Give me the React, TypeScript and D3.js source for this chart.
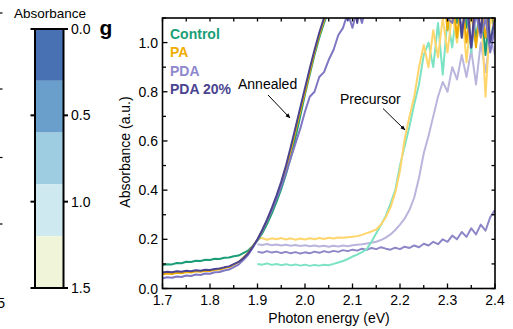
import React from "react";
import * as d3 from "d3";

const energy = [1.70,1.71,1.72,1.73,1.74,1.75,1.76,1.77,1.78,1.79,1.80,1.81,1.82,1.83,1.84,1.85,1.86,1.87,1.88,1.89,1.90,1.91,1.92,1.93,1.94,1.95,1.96,1.97,1.98,1.99,2.00,2.01,2.02,2.03,2.04,2.05,2.06,2.07,2.08,2.09,2.10,2.11,2.12,2.13,2.14,2.15,2.16,2.17,2.18,2.19,2.20,2.21,2.22,2.23,2.24,2.25,2.26,2.27,2.28,2.29,2.30,2.31,2.32,2.33,2.34,2.35,2.36,2.37,2.38,2.39,2.40];
const precursorEnergy = energy.slice(20);

const annealedControl = [0.095,0.099,0.098,0.104,0.103,0.109,0.108,0.113,0.112,0.117,0.116,0.121,0.120,0.125,0.126,0.131,0.134,0.144,0.154,0.173,0.195,0.225,0.262,0.305,0.352,0.405,0.465,0.535,0.615,0.700,0.790,0.870,0.950,1.020,1.080,1.130,1.170,1.200,1.230,1.250,1.270,1.290,1.300,1.310,1.320,1.320,1.330,1.330,1.340,1.340,1.340,1.330,1.340,1.320,1.300,1.280,1.250,1.220,1.180,1.200,1.120,1.250,1.080,1.220,1.060,1.200,1.000,1.180,0.950,1.150,1.050];
const annealedPA = [0.058,0.061,0.059,0.064,0.062,0.067,0.065,0.070,0.068,0.072,0.071,0.076,0.077,0.083,0.087,0.097,0.107,0.125,0.144,0.171,0.200,0.235,0.275,0.320,0.370,0.425,0.490,0.560,0.640,0.720,0.800,0.880,0.960,1.030,1.090,1.140,1.180,1.210,1.240,1.260,1.280,1.300,1.310,1.320,1.330,1.330,1.340,1.340,1.340,1.350,1.340,1.340,1.330,1.320,1.300,1.270,1.240,1.200,1.100,1.250,1.050,1.200,1.020,1.200,1.000,1.150,0.980,1.150,1.020,1.200,1.040];
const annealedPDA = [0.042,0.046,0.044,0.049,0.047,0.053,0.051,0.057,0.055,0.061,0.060,0.066,0.067,0.073,0.077,0.087,0.097,0.116,0.136,0.166,0.198,0.235,0.275,0.318,0.365,0.415,0.470,0.530,0.590,0.650,0.720,0.780,0.800,0.860,0.880,0.930,0.970,1.030,1.060,1.120,1.060,1.140,1.080,1.160,1.200,1.220,1.240,1.260,1.270,1.280,1.290,1.290,1.280,1.270,1.250,1.230,1.200,1.160,1.120,1.180,1.100,1.080,1.160,1.050,1.140,0.980,1.120,1.020,1.100,0.960,1.060];
const annealedPDA20 = [0.065,0.068,0.066,0.070,0.068,0.072,0.070,0.074,0.072,0.076,0.075,0.079,0.081,0.086,0.090,0.099,0.108,0.123,0.142,0.169,0.200,0.238,0.280,0.327,0.378,0.435,0.500,0.575,0.655,0.735,0.815,0.895,0.970,1.040,1.100,1.150,1.180,1.120,1.200,1.090,1.200,1.080,1.220,1.150,1.250,1.270,1.290,1.300,1.310,1.310,1.320,1.310,1.300,1.290,1.270,1.250,1.220,1.180,1.130,1.230,1.160,1.100,1.250,1.020,1.200,0.980,1.200,1.040,1.220,1.000,1.100];

const precursorControl = [0.100,0.097,0.102,0.096,0.100,0.095,0.099,0.094,0.098,0.093,0.097,0.092,0.096,0.093,0.097,0.095,0.100,0.106,0.112,0.120,0.130,0.138,0.148,0.160,0.190,0.225,0.258,0.295,0.345,0.400,0.500,0.580,0.660,0.750,0.830,0.950,1.000,0.900,1.080,0.870,1.100,0.980,1.150,1.020,1.120,0.960,1.150,1.040,1.200,1.000,1.120];
const precursorPA = [0.200,0.205,0.198,0.204,0.200,0.205,0.199,0.204,0.198,0.203,0.199,0.204,0.200,0.205,0.201,0.206,0.203,0.207,0.206,0.208,0.210,0.213,0.218,0.225,0.232,0.240,0.260,0.290,0.330,0.390,0.480,0.610,0.700,0.780,0.900,0.990,0.900,1.050,0.940,1.100,0.960,1.120,1.000,1.150,0.920,1.120,1.000,1.150,0.780,1.100,1.050];
const precursorPDA = [0.180,0.177,0.181,0.176,0.179,0.175,0.178,0.174,0.177,0.173,0.176,0.172,0.175,0.171,0.174,0.170,0.174,0.171,0.175,0.172,0.176,0.178,0.180,0.183,0.186,0.190,0.197,0.207,0.220,0.238,0.260,0.285,0.320,0.370,0.450,0.550,0.620,0.700,0.780,0.840,0.800,0.900,0.850,0.950,0.860,0.970,0.830,1.000,0.880,1.020,0.950];
const precursorPDA20 = [0.150,0.145,0.152,0.146,0.150,0.144,0.149,0.143,0.148,0.142,0.147,0.143,0.150,0.145,0.152,0.147,0.153,0.149,0.156,0.152,0.158,0.154,0.162,0.157,0.165,0.160,0.168,0.162,0.158,0.166,0.160,0.170,0.165,0.175,0.168,0.182,0.175,0.190,0.180,0.200,0.190,0.215,0.200,0.230,0.210,0.245,0.220,0.260,0.235,0.290,0.320];

const legendLabels = ["Control", "PA", "PDA", "PDA 20%"];
const legendColors = ["#1b9e77", "#f0ad00", "#8f88cc", "#4a4491"];

const xTicks = [1.7, 1.8, 1.9, 2.0, 2.1, 2.2, 2.3, 2.4];
const xMinor = [1.75, 1.85, 1.95, 2.05, 2.15, 2.25, 2.35];
const yTicks = [0, 0.2, 0.4, 0.6, 0.8, 1.0];
const yMinor = [0.1, 0.3, 0.5, 0.7, 0.9, 1.1];

const cbBreaks = [0, 0.3, 0.6, 0.9, 1.2, 1.5];
const cbColors = ["#4771b2", "#6b9fcb", "#9ecde1", "#cfe9f1", "#f0f5d9"];
const cbTicks = [0, 0.5, 1.0, 1.5];

const FONT = "'Liberation Sans', Arial, sans-serif";

export default function App() {
  const x = d3.scaleLinear().domain([1.7, 2.4]).range([162.5, 495]);
  const y = d3.scaleLinear().domain([0, 1.1]).range([288.5, 18]);
  const cb = d3.scaleLinear().domain([0, 1.5]).range([29, 288]);

  const mk = (xs: number[], ys: number[]) =>
    d3.line<number>().x((_, i) => x(xs[i])).y((v) => y(v))(ys) || "";

  const precursors = [
    { d: precursorPDA20, c: "#8e87c7" },
    { d: precursorPDA, c: "#b9b5dd" },
    { d: precursorControl, c: "#7be2c4" },
    { d: precursorPA, c: "#ffd56c" },
  ];
  const annealed = [
    { d: annealedControl, c: "#1b9e77" },
    { d: annealedPA, c: "#eeab00" },
    { d: annealedPDA, c: "#7e77c2" },
    { d: annealedPDA20, c: "#4a4491" },
  ];

  const allXTicks = [...xTicks, ...xMinor].sort();

  return (
    <svg width={513} height={329} style={{ position: "absolute", left: 0, top: 0 }} fontFamily={FONT}>
      <defs>
        <clipPath id="plotclip">
          <rect x={162.5} y={18} width={332.5} height={270.5} />
        </clipPath>
        <marker id="arr" viewBox="0 0 10 10" refX="9" refY="5" markerWidth="5" markerHeight="5" orient="auto">
          <path d="M0,1 L10,5 L0,9 z" fill="#000" />
        </marker>
      </defs>

      {/* remnant ticks from neighbouring panel */}
      {[13, 89, 157.5, 224].map((v, i) => (
        <line key={"r" + i} x1={0} x2={2.5} y1={v} y2={v} stroke="#000" strokeWidth={1.2} />
      ))}
      <text x={5} y={308} fontSize={14} textAnchor="end">5</text>

      {/* colour bar */}
      <text x={50} y={18} fontSize={13.5} textAnchor="middle">Absorbance</text>
      {cbColors.map((c, i) => (
        <rect key={"cb" + i} x={35} y={cb(cbBreaks[i])} width={28.5} height={cb(cbBreaks[i + 1]) - cb(cbBreaks[i])} fill={c} />
      ))}
      <rect x={35} y={cb(0)} width={28.5} height={cb(1.5) - cb(0)} fill="none" stroke="#000" strokeWidth={2} />
      {cbTicks.map((t) => (
        <g key={"cbt" + t}>
          <line x1={30.5} x2={35} y1={cb(t)} y2={cb(t)} stroke="#000" strokeWidth={2} />
          <line x1={63.5} x2={68} y1={cb(t)} y2={cb(t)} stroke="#000" strokeWidth={2} />
          <text x={71} y={cb(t) + 5} fontSize={14}>{t.toFixed(1)}</text>
        </g>
      ))}

      {/* panel label */}
      <text x={99.5} y={34.5} fontSize={21} fontWeight="bold">g</text>

      {/* curves */}
      <g clipPath="url(#plotclip)" fill="none" strokeWidth={2} strokeLinejoin="round">
        {precursors.map((s, i) => (
          <path key={"p" + i} d={mk(precursorEnergy, s.d)} stroke={s.c} />
        ))}
        {annealed.map((s, i) => (
          <path key={"a" + i} d={mk(energy, s.d)} stroke={s.c} />
        ))}
      </g>

      {/* frame */}
      <rect x={162.5} y={18} width={332.5} height={270.5} fill="none" stroke="#000" strokeWidth={1.6} />

      {/* x ticks */}
      {allXTicks.map((t) => (
        <g key={"xt" + t}>
          <line x1={x(t)} x2={x(t)} y1={288.5} y2={xTicks.includes(t) ? 283.5 : 285} stroke="#000" strokeWidth={1.3} />
          <line x1={x(t)} x2={x(t)} y1={18} y2={21.5} stroke="#000" strokeWidth={1.3} />
        </g>
      ))}
      {xTicks.map((t) => (
        <text key={"xl" + t} x={x(t)} y={305} fontSize={14} textAnchor="middle">{t.toFixed(1)}</text>
      ))}

      {/* y ticks */}
      {[...yTicks, ...yMinor].map((t) => (
        <g key={"yt" + t}>
          <line x1={162.5} x2={yTicks.includes(t) ? 167.5 : 166} y1={y(t)} y2={y(t)} stroke="#000" strokeWidth={1.3} />
          <line x1={495} x2={491.5} y1={y(t)} y2={y(t)} stroke="#000" strokeWidth={1.3} />
        </g>
      ))}
      {yTicks.map((t) => (
        <text key={"yl" + t} x={158} y={y(t) + 5} fontSize={14} textAnchor="end">{t.toFixed(1)}</text>
      ))}

      {/* axis titles */}
      <text x={329} y={323} fontSize={14} textAnchor="middle">Photon energy (eV)</text>
      <text transform="translate(130,152) rotate(-90)" fontSize={14} textAnchor="middle">Absorbance (a.u.)</text>

      {/* legend */}
      {legendLabels.map((l, i) => (
        <text key={"lg" + i} x={170} y={38.5 + i * 18.5} fontSize={14} fontWeight="bold" fill={legendColors[i]}>{l}</text>
      ))}

      {/* annotations */}
      <text x={238} y={88.5} fontSize={14}>Annealed</text>
      <line x1={268} y1={95} x2={290} y2={118} stroke="#000" strokeWidth={1} markerEnd="url(#arr)" />
      <text x={340} y={103.5} fontSize={14}>Precursor</text>
      <line x1={383} y1={108.5} x2={405} y2={130} stroke="#000" strokeWidth={1} markerEnd="url(#arr)" />
    </svg>
  );
}
